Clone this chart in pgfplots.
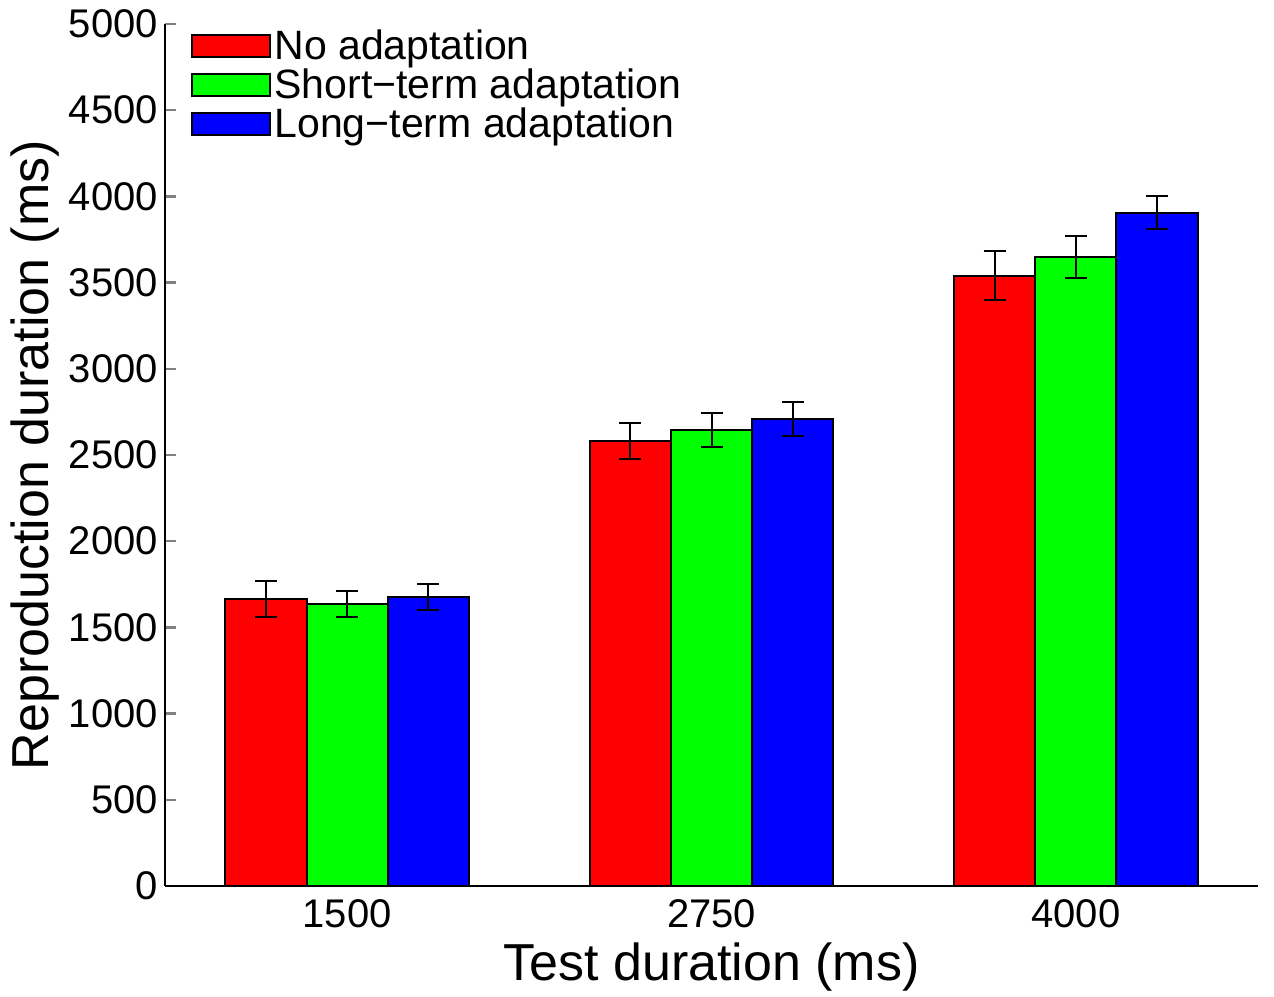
\documentclass[border=0pt]{standalone}
\usepackage{fontspec}
\setmainfont{Liberation Sans}
\usepackage{pgfplots}
\pgfplotsset{compat=1.18}
\usepackage{pgfplotstable}

\pgfplotstableread{
x y err
1 1665 105
2 2581 107
3 3540 142
}\noadapt
\pgfplotstableread{
x y err
1 1636 78
2 2645 99
3 3647 122
}\shortadapt
\pgfplotstableread{
x y err
1 1676 75
2 2709 96
3 3905 95
}\longadapt

\begin{document}
\begin{tikzpicture}
\useasboundingbox (-82.5pt,-55pt) rectangle (554.5pt,443pt);
\begin{axis}[
  scale only axis,
  width=546.5pt, height=431pt,
  xmin=0.5, xmax=3.5, ymin=0, ymax=5000,
  axis x line*=bottom, axis y line*=left,
  axis line style={line width=1.2pt, -},
  ybar=0pt, bar width=0.223,
  xtick={1,2,3}, xticklabels={1500,2750,4000},
  xtick style={draw=none},
  ytick={0,500,...,5000},
  ytick style={line width=1.2pt},
  tick align=inside,
  major tick length=5.5pt,
  scaled y ticks=false,
  yticklabel style={/pgf/number format/1000 sep={}},
  xticklabel style={yshift=-3pt},
  /pgf/number format/assume math mode=true,
  tick label style={font=\fontsize{20}{22}\selectfont},
  xlabel={Test duration (ms)},
  ylabel={Reproduction duration (ms)},
  label style={font=\fontsize{26}{28}\selectfont},
  xlabel style={yshift=-1pt},
  ylabel style={yshift=-2pt},
  legend style={draw=none, fill=none, at={(rel axis cs:0.023,0.998)}, anchor=north west,
    font=\fontsize{20.5}{22}\selectfont, row sep=-1pt, inner sep=0pt,
    nodes={inner sep=2pt}},
  legend cell align=left,
  legend image code/.code={\draw[#1, line width=1pt] (0pt,-5.5pt) rectangle (39pt,5.5pt);},
  error bars/error bar style={line width=1pt, black},
  error bars/error mark options={rotate=90, mark size=5.5pt, line width=1pt, black},
]
\addplot[fill={rgb,255:red,255;green,0;blue,0}, draw=black, line width=1pt,
  error bars/.cd, y dir=both, y explicit] table[x=x, y=y, y error=err] {\noadapt};
\addplot[fill={rgb,255:red,0;green,255;blue,0}, draw=black, line width=1pt,
  error bars/.cd, y dir=both, y explicit] table[x=x, y=y, y error=err] {\shortadapt};
\addplot[fill={rgb,255:red,0;green,0;blue,255}, draw=black, line width=1pt,
  error bars/.cd, y dir=both, y explicit] table[x=x, y=y, y error=err] {\longadapt};
\legend{No adaptation, Short\textminus term adaptation, Long\textminus term adaptation}
\end{axis}
\end{tikzpicture}
\end{document}
